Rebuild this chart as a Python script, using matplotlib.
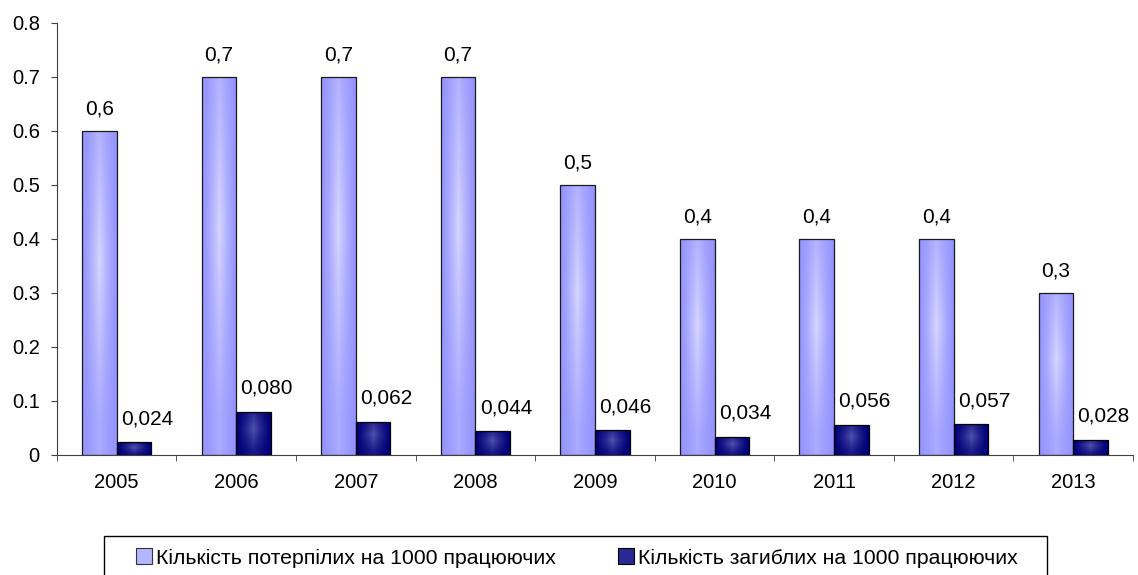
import numpy as np
import matplotlib
matplotlib.use('Agg')
import matplotlib.pyplot as plt
from matplotlib.patches import Patch, Rectangle

plt.rcParams['font.family'] = ['Liberation Sans', 'DejaVu Sans']

years = ['2005', '2006', '2007', '2008', '2009', '2010', '2011', '2012', '2013']
injured = [0.6, 0.7, 0.7, 0.7, 0.5, 0.4, 0.4, 0.4, 0.3]
killed = [0.024, 0.080, 0.062, 0.044, 0.046, 0.034, 0.056, 0.057, 0.028]
injured_labels = ['0,6', '0,7', '0,7', '0,7', '0,5', '0,4', '0,4', '0,4', '0,3']
killed_labels = ['0,024', '0,080', '0,062', '0,044', '0,046', '0,034', '0,056', '0,057', '0,028']
series_names = ['Кількість потерпілих на 1000 працюючих', 'Кількість загиблих на 1000 працюючих']

light_edge = np.array([0.58, 0.58, 1.0])
light_mid = np.array([0.84, 0.84, 1.0])
dark_edge = np.array([0.0, 0.0, 0.47])
dark_mid = np.array([0.32, 0.32, 0.68])

FS = 14.5
FS_LAB = 15
FS_LEG = 15.3


def gradient_fill(ax, bar, c_edge, c_mid):
    x0, y0 = bar.get_x(), bar.get_y()
    w, h = bar.get_width(), bar.get_height()
    u = np.linspace(0, 1, 60)
    v = np.linspace(0, 1, 120)
    U, V = np.meshgrid(u, v)
    f = (1 - np.abs(2 * U - 1)) ** 1.3 * (0.35 + 0.65 * (1 - np.abs(2 * V - 1.2).clip(0, 1)))
    f = f.clip(0, 1)
    img = c_edge[None, None, :] * (1 - f[..., None]) + c_mid[None, None, :] * f[..., None]
    im = ax.imshow(img, extent=[x0, x0 + w, y0, y0 + h], origin='lower',
                   aspect='auto', zorder=2, interpolation='bilinear')
    im.set_clip_path(bar)
    bar.set_facecolor('none')


fig = plt.figure(figsize=(11.38, 5.75), dpi=100)
ax = fig.add_axes([0.050, 0.2087, 0.9456, 0.7513])

x = np.arange(len(years))
w = 0.29
b1 = ax.bar(x - w / 2, injured, w, edgecolor='#1a1a1a', linewidth=0.9, zorder=3)
b2 = ax.bar(x + w / 2, killed, w, edgecolor='#000000', linewidth=0.9, zorder=3)
for bar in b1:
    gradient_fill(ax, bar, light_edge, light_mid)
for bar in b2:
    gradient_fill(ax, bar, dark_edge, dark_mid)

for i in range(len(years)):
    ax.annotate(injured_labels[i], (x[i] - w / 2, injured[i]), xytext=(0, 9),
                textcoords='offset points', ha='center', va='bottom', fontsize=FS_LAB)
    ax.annotate(killed_labels[i], (x[i] + w / 2, killed[i]), xytext=(9.5, 10),
                textcoords='offset points', ha='center', va='bottom', fontsize=FS_LAB)

ax.set_xlim(-0.5, len(years) - 0.5)
ax.set_ylim(0, 0.8)
ax.set_yticks(np.arange(0, 0.81, 0.1))
ax.set_yticklabels(['0', '0.1', '0.2', '0.3', '0.4', '0.5', '0.6', '0.7', '0.8'], fontsize=FS)
ax.set_xticks(x)
ax.set_xticklabels(years, fontsize=FS)
ax.set_xticks(np.arange(-0.5, len(years)), minor=True)
ax.tick_params(axis='x', which='major', length=0, pad=13)
ax.tick_params(axis='x', which='minor', length=4, color='#404040')
ax.tick_params(axis='y', length=4.3, pad=8, color='#404040')
for s in ['top', 'right']:
    ax.spines[s].set_visible(False)
for s in ['left', 'bottom']:
    ax.spines[s].set_color('#404040')
ax.set_facecolor('white')

handles = [Patch(facecolor=(light_edge + light_mid) / 2, edgecolor='#333333', linewidth=0.8),
           Patch(facecolor=(dark_edge + dark_mid) / 2, edgecolor='#000000', linewidth=0.8)]
# one legend per entry so each sits where it does in the original
for h, name, left in zip(handles, series_names, [136, 618]):
    fig.legend([h], [name], loc='center left', bbox_to_anchor=(left / 1138, 17 / 575),
               fontsize=FS_LEG, frameon=False, handlelength=0.75, handleheight=0.75,
               handletextpad=0.2, borderpad=0.0, borderaxespad=0.0)

fig.patches.append(Rectangle((104 / 1138, -5 / 575), 943 / 1138, 44 / 575, transform=fig.transFigure,
                             fill=False, edgecolor='#000000', linewidth=1.0))

fig.savefig('out.png', dpi=100, facecolor='white')
